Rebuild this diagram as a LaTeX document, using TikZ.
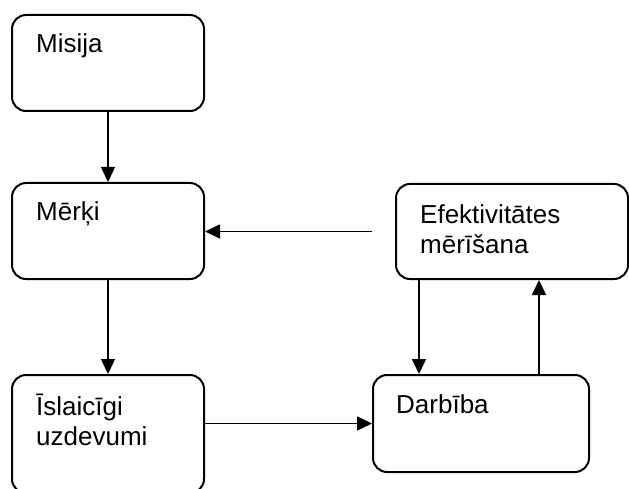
\documentclass[tikz,border=0pt]{standalone}
\usepackage{fontspec}
\setmainfont{Liberation Sans}
\usetikzlibrary{arrows.meta}
\usetikzlibrary{positioning}
\tikzstyle{box_node} = [
    draw=black, 
    line width=2pt, 
    rounded corners=14pt, 
    inner sep=0pt, 
    minimum width=192pt, 
    minimum height=96pt, 
    anchor=north west
]
\tikzstyle{text_node} = [
    font=\fontsize{26}{30}\selectfont, 
    align=left, 
    inner sep=0pt, 
    anchor=base west % base of the last line
]
\tikzstyle{link} = [
    line width=1.6pt, 
    -{Triangle[length=15pt, width=14pt]}
]

\begin{document}
\begin{tikzpicture}[x=1pt, y=-1pt]
\useasboundingbox (0,0) rectangle (629,489);
% boxes
\node [box_node] (misija) at (11,14) {};
\node [box_node] (merki) at (11,182) {};
\node [box_node, minimum height=118pt] (islaicigi) at (11,374) {};
\node [box_node, minimum width=232pt, minimum height=95pt] (efektivitate) at (395,183) {};
\node [box_node, minimum width=216pt, minimum height=97pt] (darbiba) at (372,374) {};
% texts
\node [text_node] (misija_text) at ([shift={(25,39)}]misija.north west) {Misija};
\node [text_node] (merki_text) at ([shift={(25,39)}]merki.north west) {Mērķi};
\node [text_node] (islaicigi_text) at ([shift={(25,71)}]islaicigi.north west) {Īslaicīgi\\uzdevumi};
\node [text_node] (efektivitate_text) at ([shift={(25,70)}]efektivitate.north west) {Efektivitātes\\mērīšana};
\node [text_node] (darbiba_text) at ([shift={(24,39)}]darbiba.north west) {Darbība};
% connectors
\coordinate (feedback_start) at ([xshift=-23pt]efektivitate.west);
\draw [link] (misija.south) -- (merki.north);
\draw [link] (merki.south) -- (islaicigi.north);
\draw [link] (feedback_start) -- (feedback_start -| merki.east);
\draw [link] (darbiba.west -| islaicigi.east) -- (darbiba.west);
\draw [link] ([xshift=24pt]efektivitate.south west) -- ([xshift=47pt]darbiba.north west);
\draw [link] ([xshift=167pt]darbiba.north west) -- ([xshift=144pt]efektivitate.south west);
\end{tikzpicture}
\end{document}
